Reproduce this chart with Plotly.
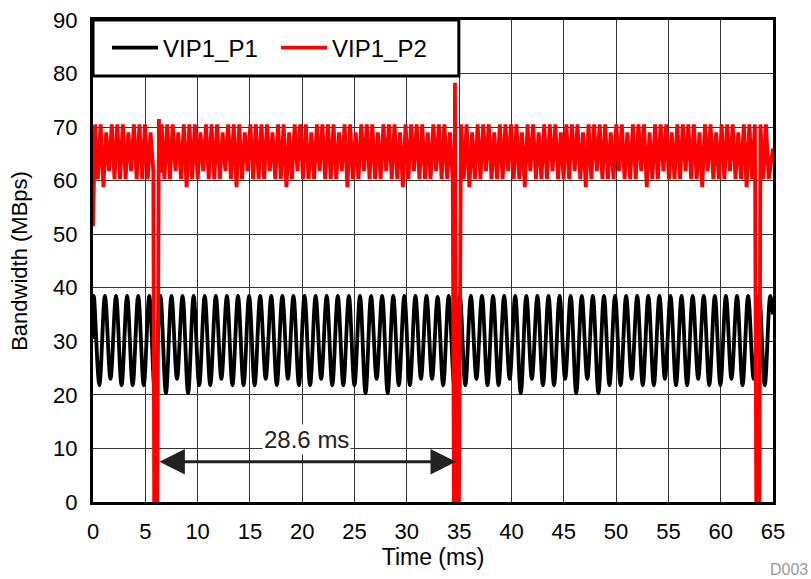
import numpy as np
import plotly.graph_objects as go

# ---------------- data ----------------
# VIP1_P1 (black): peaks and troughs, half period ~0.53 ms
P1_START = [0.0, 30.5]
P1_END = [65.0, 35.0]
P1_PEAK_T0 = 0.08
P1_TROUGH_T0 = 0.61
P1_PERIOD = 1.06
P1_PEAKS = [38.5] * 31 + [38.3] + [38.5] * 30
P1_TROUGHS = [
    21.8, 23.0, 21.8, 21.8, 21.8, 20.3, 20.3, 23.0, 20.3, 21.8,
    21.8, 23.0, 21.8, 21.8, 21.8, 23.0, 21.8, 23.0, 21.8, 21.8,
    23.0, 21.8, 21.8, 21.8, 20.3, 23.0, 20.3, 21.8, 21.8, 23.0,
    23.0, 21.8, 21.8, 21.8, 23.0, 21.8, 21.8, 23.0, 20.3, 23.0,
    21.8, 21.8, 23.0, 20.3, 23.0, 20.3, 21.8, 21.8, 23.0, 21.8,
    21.8, 23.0, 21.8, 21.8, 23.0, 21.8, 21.8, 23.0, 21.8, 23.0,
    21.8,
]

# VIP1_P2 (red): period ~0.53 ms
P2_START = [0.0, 51.5]
P2_END = [65.0, 66.0]
P2_PEAK_T0 = 0.20
P2_TROUGH_T0 = 0.465
P2_PERIOD = 0.53
P2_PEAKS = [
    70.5, 70.5, 69, 70.5, 70.5, 70.5, 69, 70.5, 70.5, 70.5,
    69, 70.5, 70.5, 70.5, 70.5, 69, 70.5, 70.5, 70.5, 69,
    70.5, 70.5, 70.5, 69, 70.5, 70.5, 70.5, 69, 70.5, 70.5,
    70.5, 70.5, 69, 70.5, 70.5, 69, 70.5, 70.5, 70.5, 69,
    70.5, 70.5, 70.5, 70.5, 69, 70.5, 70.5, 69, 70.5, 70.5,
    70.5, 69, 70.5, 70.5, 70.5, 69, 70.5, 70.5, 70.5, 70.5,
    69, 70.5, 70.5, 70.5, 69, 70.5, 70.5, 70.5, 69, 70.5,
    70.5, 70.5, 69, 70.5, 70.5, 70.5, 70.5, 69, 70.5, 70.5,
    69, 70.5, 70.5, 70.5, 69, 70.5, 70.5, 70.5, 69, 70.5,
    70.5, 70.5, 70.5, 69, 70.5, 70.5, 69, 70.5, 70.5, 70.5,
    69, 70.5, 70.5, 70.5, 69, 70.5, 70.5, 70.5, 70.5, 69,
    70.5, 70.5, 69, 70.5, 70.5, 70.5, 69, 70.5, 70.5, 70.5,
    70.5, 70.5,
]
P2_TROUGHS = [
    60.3, 58.8, 61.8, 60.3, 60.3, 60.3, 61.8, 60.3, 60.3, 60.3,
    61.8, 60.3, 60.3, 60.3, 61.8, 60.3, 58.8, 60.3, 60.3, 61.8,
    60.3, 60.3, 60.3, 61.8, 60.3, 58.8, 60.3, 61.8, 60.3, 60.3,
    60.3, 61.8, 60.3, 60.3, 58.8, 60.3, 61.8, 60.3, 60.3, 60.3,
    61.8, 60.3, 60.3, 60.3, 61.8, 58.8, 60.3, 60.3, 61.8, 60.3,
    60.3, 60.3, 61.8, 60.3, 60.3, 58.8, 60.3, 61.8, 60.3, 60.3,
    60.3, 61.8, 60.3, 60.3, 60.3, 61.8, 60.3, 58.8, 60.3, 60.3,
    61.8, 60.3, 60.3, 60.3, 61.8, 60.3, 60.3, 58.8, 61.8, 60.3,
    60.3, 60.3, 61.8, 60.3, 60.3, 60.3, 61.8, 60.3, 58.8, 60.3,
    61.8, 60.3, 60.3, 60.3, 61.8, 60.3, 60.3, 60.3, 61.8, 58.8,
    60.3, 60.3, 61.8, 60.3, 60.3, 60.3, 61.8, 60.3, 60.3, 58.8,
    61.8, 60.3, 60.3, 60.3, 61.8, 60.3, 60.3, 58.8, 60.3, 61.8,
    60.3, 60.3,
]
# frame drops of VIP1_P2: window (start, end), then points inside it
P2_DIP_WINDOWS = [(5.80, 6.45), (34.45, 35.00), (63.35, 63.75)]
P2_DIP_T = [[5.85, 6.15, 6.30, 6.42], [34.50, 34.60, 34.70, 34.98], [63.40, 63.70]]
P2_DIP_V = [[0, 0, 71.5, 61.5], [0, 78.3, 0, 0], [0, 0]]

# annotation
GAP_START, GAP_END, GAP_Y = 6.2, 34.7, 7.5
GAP_LABEL = "28.6 ms"

X_TICKS = list(range(0, 66, 5))
Y_TICKS = list(range(0, 91, 10))


def build(start, end, pk_t0, tr_t0, period, peaks, troughs, windows=(), dip_t=(), dip_v=()):
    pts = [tuple(start)]
    for i, v in enumerate(peaks):
        pts.append((pk_t0 + i * period, v))
    for i, v in enumerate(troughs):
        pts.append((tr_t0 + i * period, v))
    pts = [p for p in pts if not any(a < p[0] < b for a, b in windows)]
    for ts, vs in zip(dip_t, dip_v):
        pts.extend(zip(ts, vs))
    pts.append(tuple(end))
    pts.sort(key=lambda p: p[0])
    return [p[0] for p in pts], [p[1] for p in pts]


x1, y1 = build(P1_START, P1_END, P1_PEAK_T0, P1_TROUGH_T0, P1_PERIOD, P1_PEAKS, P1_TROUGHS)
x2, y2 = build(P2_START, P2_END, P2_PEAK_T0, P2_TROUGH_T0, P2_PERIOD, P2_PEAKS, P2_TROUGHS,
               P2_DIP_WINDOWS, P2_DIP_T, P2_DIP_V)

FONT = "Liberation Sans, Arial, sans-serif"

fig = go.Figure()
fig.add_trace(go.Scatter(x=x1, y=y1, mode="lines", name="VIP1_P1",
                         line=dict(color="black", width=3.8, shape="spline")))
fig.add_trace(go.Scatter(x=x2, y=y2, mode="lines", name="VIP1_P2",
                         line=dict(color="#ff0000", width=3.8)))

# legend frame (white box with thick border, top-left of the plot)
fig.add_shape(type="rect", xref="paper", yref="paper", x0=0, x1=0.538, y0=0.884, y1=1,
              fillcolor="white", line=dict(color="black", width=3), layer="above")

fig.add_annotation(x=GAP_END, y=GAP_Y, ax=GAP_START, ay=GAP_Y, xref="x", yref="y",
                   axref="x", ayref="y", text="", showarrow=True,
                   arrowside="end+start", arrowhead=2, startarrowhead=2,
                   arrowsize=1.7, startarrowsize=1.7, arrowwidth=3, arrowcolor="#222")
fig.add_annotation(x=(GAP_START + GAP_END) / 2, y=11.7, xref="x", yref="y",
                   text=GAP_LABEL, showarrow=False, bgcolor="white",
                   font=dict(size=24, color="#222", family=FONT))
fig.add_annotation(x=1.055, y=-0.14, xref="paper", yref="paper", xanchor="right",
                   yanchor="middle", text="D003", showarrow=False,
                   font=dict(size=16, color="#999", family=FONT))

axis_common = dict(showline=True, linewidth=3, linecolor="black", mirror=True,
                   showgrid=True, gridcolor="#333", gridwidth=1, zeroline=False,
                   ticks="", tickfont=dict(size=22, color="black", family=FONT))
fig.update_xaxes(range=[0, 65], tickvals=X_TICKS, ticklabelstandoff=8,
                 title=dict(text="Time (ms)", font=dict(size=23, color="black", family=FONT),
                            standoff=4), **axis_common)
fig.update_yaxes(range=[0, 90], tickvals=Y_TICKS, ticklabelstandoff=8,
                 title=dict(text="Bandwidth (MBps)", font=dict(size=22, color="black", family=FONT),
                            standoff=20), **axis_common)

fig.update_layout(
    width=811, height=579,
    margin=dict(l=93, r=38, t=20, b=77, autoexpand=False),
    plot_bgcolor="white", paper_bgcolor="white",
    font=dict(family=FONT, color="black"),
    showlegend=True,
    legend=dict(orientation="h", x=0, y=0.942, xanchor="left", yanchor="middle",
                bgcolor="rgba(0,0,0,0)", borderwidth=0, indentation=14,
                font=dict(size=24, color="black", family=FONT),
                entrywidth=94, itemwidth=46),
)

fig.write_html("out.html", post_script="document.body.style.margin='0px';",
               config={"displayModeBar": False})
